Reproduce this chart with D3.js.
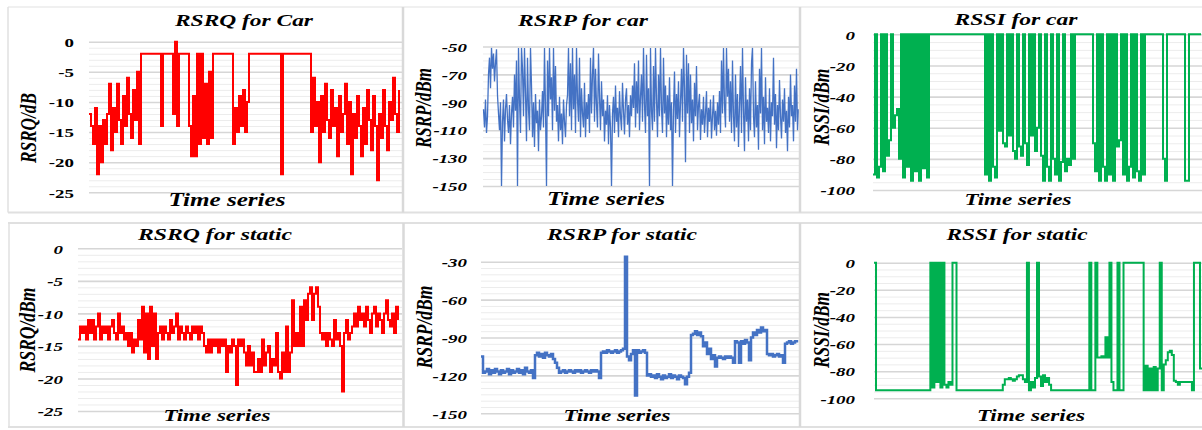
<!DOCTYPE html>
<html><head><meta charset="utf-8">
<script src="https://cdn.jsdelivr.net/npm/d3@7"></script>
<style>body{margin:0;background:#fff}svg{display:block}</style>
</head><body><svg id="c" width="1202" height="430"></svg>
<script>
// ---------------- DATA ----------------
const rsrqCar = [
 -12,-14,-17,-11,-22,-14,-20,-13,-17,-12,-7,-18,-11,-15,-7,-13,-17,-9,-14,-6,-12,-16,-8,-13,-5,-17,
 -2,-2,-2,-2,-2,-2,-2,-2,-2,-2,-14,-2,-2,-2,-2,-2,-12,0,-14,-2,-2,-2,-2,-2,
 -14,-19,-9,-19,-2,-17,-2,-16,-7,-17,-5,-16,
 -2,-2,-2,-2,-2,-2,-2,-2,-2,-2,
 -17,-11,-15,-9,-14,-8,-15,-10,
 -2,-2,-2,-2,-2,-2,-2,-2,-2,-2,-2,-2,-2,-2,-2,-2,-22,-2,-2,-2,-2,-2,-2,-2,-2,-2,-2,-2,-2,-2,-2,
 -15,-6,-14,-10,-20,-9,-15,-7,-13,-16,-8,-14,-11,-19,-9,-15,-12,-7,-17,-10,-22,-12,-16,-9,-14,
 -19,-11,-17,-8,-13,-18,-9,-14,-23,-12,-16,-8,-14,-18,-10,-13,-6,-12,-15,-8
];
const rsrpCar = [
 -95,-108,-88,-112,-100,-70,-58,-80,-51,-66,
 -55,-75,-62,-52,-85,-98,-110,-90,-150,-104,
 -88,-118,-95,-84,-102,-112,-92,-120,-98,-86,
 -108,-70,-96,-60,-150,-51,-88,-112,-51,-66,
 -100,-51,-84,-118,-58,-95,-110,-51,-78,-115,
 -90,-122,-84,-105,-96,-125,-88,-110,-100,-82,
 -108,-51,-95,-150,-60,-100,-51,-88,-72,-110,
 -51,-96,-64,-104,-92,-118,-86,-110,-98,-120,
 -88,-104,-115,-92,-85,-51,-100,-62,-110,-51,
 -95,-70,-112,-51,-88,-104,-58,-115,-80,-98,
 -108,-76,-115,-90,-102,-84,-112,-58,-98,-70,
 -51,-104,-66,-92,-108,-55,-86,-110,-75,-100,
 -88,-118,-96,-106,-85,-120,-92,-108,-150,-98,
 -86,-112,-78,-104,-94,-115,-82,-100,-110,-76,
 -96,-113,-88,-80,-106,-92,-115,-85,-100,-78,
 -94,-62,-108,-75,-98,-60,-110,-86,-70,-104,
 -51,-92,-112,-56,-100,-80,-150,-51,-96,-110,
 -64,-104,-51,-88,-115,-70,-100,-51,-94,-112,
 -58,-98,-78,-115,-85,-106,-72,-110,-90,-150,
 -96,-68,-112,-84,-102,-75,-115,-90,-66,-104,
 -51,-80,-133,-56,-98,-62,-112,-70,-105,-88,
 -118,-76,-100,-64,-110,-92,-84,-117,-95,-106,
 -86,-112,-98,-82,-115,-94,-104,-88,-116,-100,
 -85,-110,-96,-114,-90,-106,-82,-112,-60,-98,
 -51,-92,-108,-51,-86,-66,-104,-75,-112,-60,
 -100,-118,-70,-108,-84,-122,-92,-64,-112,-51,
 -96,-125,-72,-104,-88,-118,-80,-110,-62,-51,
 -100,-115,-75,-108,-92,-124,-66,-98,-51,-110,
 -86,-120,-72,-104,-94,-112,-80,-118,-90,-100,
 -58,-106,-84,-123,-92,-110,-74,-100,-116,-88,
 -104,-80,-112,-96,-125,-86,-108,-70,-100,-92,
 -118,-78,-104,-66,-110,-95
];
const rssiCar = [
 -90,0,-92,-85,0,-88,0,
 -78,-68,0,-60,-52,-48,-80,
 0,-92,0,-85,0,-94,0,-88,0,-94,0,-86,0,-92,0,
 0,0,0,0,0,0,0,0,0,0,0,0,0,0,0,0,0,0,0,0,0,0,0,0,0,0,0,
 -90,0,-94,0,-85,-92,0,
 -62,0,-70,-72,0,-65,0,-75,-80,0,-72,-78,0,-70,-84,0,-65,0,-75,-60,
 0,-78,-94,0,-85,-94,0,-80,-90,0,-94,-82,0,-88,-80,-84,0,-80,0,
 0,0,0,0,0,0,0,0,
 -70,-88,0,-94,0,-85,-94,0,-90,0,-94,0,-72,-68,0,-90,0,-94,-85,0,-92,0,-88,-94,0,-90,
 0,0,0,0,0,0,0,0,0,
 -80,-94,
 0,0,0,0,0,0,0,0,0,
 -94,-94,
 0,0,0,0,0,0,0
];
const rsrqStatic = [
 -14,-12,-13,-12,-14,-11,-13,-11,-14,-12,-10,-14,-12,-13,-12,-14,-12,-11,-13,-14,-10,-13,-12,-14,-13,
 -15,-13,-16,-14,-15,-11,-14,
 -9,-16,-10,-17,-9,-15,-10,-17,
 -13,-12,-14,-12,-13,-14,-11,-13,-12,-10,-14,-12,-13,-14,-12,-13,-14,-12,-13,-12,-14,
 -12,-13,-15,-16,-14,
 -16,-14,-15,-14,-16,-14,-15,-14,-19,-15,-16,-14,
 -15,-21,-14,-15,-14,-16,
 -18,-15,-18,-16,-19,
 -19,-17,-19,-14,-18,-16,-15,-19,-17,-18,-13,-19,-20,-16,-19,
 -12,-19,-16,-8,-15,-13,-15,
 -9,-15,-8,-11,
 -7,-6,-11,-7,-6,-9,
 -13,-14,-13,-15,-13,-14,-15,-11,-14,-13,-15,-22,-13,
 -11,-14,-13,-12,
 -10,-12,-9,-11,-10,-12,-9,-11,-13,-10,-9,-12,-10,-11,-13,-10,-8,-11,-12,-10,-13,-9,-11
];
const rsrpStatic = [
 -105,-118,
 -117,-115,-119,-116,-118,-115,-117,-119,-116,-118,-117,-115,-119,-116,-118,-117,-115,-118,-116,-119,-114,-117,-118,-116,-122,
 -104,-102,-105,-103,-106,-102,-104,-105,-103,-107,
 -110,-114,-118,
 -117,-116,-118,-117,-116,-117,-118,-116,-117,-116,-118,-117,-116,-117,-118,-116,-117,-116,-117,
 -122,-102,
 -101,-102,-100,-101,-102,-101,-100,-102,-101,-100,-99,
 -26,
 -105,-108,-103,-100,
 -136,
 -100,-102,-101,-100,-102,
 -120,
 -119,-121,-120,-122,-119,-121,-123,-120,-122,-121,-119,-122,-120,-121,-123,-120,-121,-122,-127,-121,
 -118,-88,
 -87,-85,-88,-86,-89,
 -97,-94,-103,-99,-107,-104,
 -113,
 -106,-105,-106,-107,-105,-106,-105,-106,-110,
 -93,
 -94,-110,-93,-95,-92,-94,
 -108,
 -90,-86,-88,-84,-86,-82,-85,-84,
 -103,-104,-103,-105,-104,-103,-105,-104,
 -110,
 -95,-94,-93,-95,-94,-93,-94
];
const rssiStatic = [
 0,
 -94,-94,-94,-94,-94,-94,-94,-94,-94,-94,-94,-94,-94,-94,-94,-94,-94,-94,-94,-94,-94,-94,-94,-94,-94,-94,-94,
 0,-92,0,-88,0,-92,0,-90,-92,
 -88,-90,
 0,0,-94,
 -94,-94,-94,-94,-94,-94,-94,-94,-94,-94,-94,-94,-94,-94,-94,-94,-94,-94,-94,-94,-94,-94,
 -90,-86,
 -86,-85,-86,-87,-86,-84,-83,-83,-86,-88,
 0,-94,
 -88,-92,-85,0,-84,-91,-83,-88,-85,-90,
 -94,
 -94,-94,-94,-94,-94,-94,-94,-94,-94,-94,-94,-94,-94,-94,-94,-94,-94,-94,
 0,-94,-94,0,-70,-70,
 -69,-70,-55,-70,
 0,-88,-94,-94,0,-94,-94,0,0,
 0,0,0,0,0,0,0,0,
 -94,
 -76,-94,-78,-94,-77,-94,-78,0,-94,-75,-72,-66,-65,-68,
 -87,-88,-90,-88,-88,-88,-88,-88,-88,
 -94,0,0,0,-78,-78
];

const ticksRsrq = [0,-5,-10,-15,-20,-25];
const ticksRsrpCar = [-50,-70,-90,-110,-130,-150];
const ticksRssi = [0,-20,-40,-60,-80,-100];
const ticksRsrpStatic = [-30,-60,-90,-120,-150];

const titleTexts = ["RSRQ for Car","RSRP for car","RSSI for car","RSRQ for static","RSRP for static","RSSI for static"];
const yTitleTexts = ["RSRQ/dB","RSRP/dBm","RSSI/dBm","RSRQ/dBm","RSRP/dBm","RSSI/dBm"];
const xTitleText = "Time series";

// ---------------- LAYOUT ----------------
const FONT = "'Liberation Serif','Times New Roman',serif";
const STRETCH = 1.4;
const svg = d3.select("#c");

const frameColor = "#d9d9d9";
function hline(y, x0, x1, w, c){ svg.append("line").attr("x1",x0).attr("x2",x1).attr("y1",y).attr("y2",y).attr("stroke",c).attr("stroke-width",w); }
function vline(x, y0, y1, w, c){ svg.append("line").attr("x1",x).attr("x2",x).attr("y1",y0).attr("y2",y1).attr("stroke",c).attr("stroke-width",w); }

const panels = [
 {data:rsrqCar, ticks:ticksRsrq, dom:[-25,0], minor:1, color:"#ff0000", lw:2, curve:d3.curveStepAfter,
  x0:89, x1:399, yb:192.3, yt:41.7, gx0:89, gx1:402, tickX:74, tickItalic:false, tickFS:13.5,
  tX:244, tY:26, tW:138, tFS:16.5, sX:227, sY:205.5, sW:117, sFS:18, lX:28, lY:128, lW:70},
 {data:rsrpCar, ticks:ticksRsrpCar, dom:[-150,-50], minor:5, color:"#4472c4", lw:1.3, curve:d3.curveLinear,
  x0:483.5, x1:798.5, yb:186, yt:46.5, gx0:483, gx1:800, tickX:467, tickItalic:true, tickFS:13.5,
  tX:583, tY:26, tW:130, tFS:16.5, sX:606, sY:205, sW:118, sFS:18, lX:423, lY:108, lW:80},
 {data:rssiCar, ticks:ticksRssi, dom:[-100,0], minor:5, color:"#00b050", lw:2, curve:d3.curveStepAfter,
  x0:873, x1:1201, yb:190, yt:34.3, gx0:873, gx1:1202, tickX:855, tickItalic:true, tickFS:13.5,
  tX:1016, tY:25, tW:123, tFS:16.5, sX:1018, sY:204.5, sW:107, sFS:17, lX:821, lY:107, lW:77},
 {data:rsrqStatic, ticks:ticksRsrq, dom:[-25,0], minor:1, color:"#ff0000", lw:2, curve:d3.curveStepAfter,
  x0:78, x1:398, yb:411, yt:248.3, gx0:78, gx1:402, tickX:63, tickItalic:true, tickFS:13.5,
  tX:215, tY:240, tW:154, tFS:16.5, sX:217, sY:421, sW:107, sFS:17, lX:27, lY:330, lW:85},
 {data:rsrpStatic, ticks:ticksRsrpStatic, dom:[-150,-30], minor:5, color:"#4472c4", lw:2.5, curve:d3.curveStepAfter,
  x0:481, x1:797, yb:413.3, yt:261.7, gx0:481, gx1:800, tickX:467, tickItalic:true, tickFS:13.5,
  tX:622, tY:240, tW:150, tFS:16.5, sX:617, sY:421, sW:107, sFS:17, lX:424, lY:327, lW:83},
 {data:rssiStatic, ticks:ticksRssi, dom:[-100,0], minor:5, color:"#00b050", lw:2, curve:d3.curveStepAfter,
  x0:874, x1:1202, yb:398.3, yt:262.7, gx0:874, gx1:1202, tickX:855, tickItalic:true, tickFS:13.5,
  tX:1017, tY:240, tW:141, tFS:16.5, sX:1031, sY:421, sW:108, sFS:17, lX:821, lY:330, lW:76}
];

panels.forEach((p, k) => {
  const g = svg.append("g");
  const y = d3.scaleLinear().domain(p.dom).range([p.yb, p.yt]);
  const x = d3.scaleLinear().domain([0, p.data.length - 1]).range([p.x0, p.x1]);

  const minorVals = d3.range(p.dom[0], p.dom[1] + 0.001, p.minor).filter(v => !p.ticks.includes(v));
  g.append("g").attr("transform", `translate(${p.gx0},0)`)
    .call(d3.axisLeft(y).tickValues(minorVals).tickSize(-(p.gx1 - p.gx0)).tickFormat(""))
    .call(a => { a.select(".domain").remove(); a.selectAll("line").attr("stroke", "#ececec").attr("stroke-width", 1); });
  g.append("g").attr("transform", `translate(${p.gx0},0)`)
    .call(d3.axisLeft(y).tickValues(p.ticks).tickSize(-(p.gx1 - p.gx0)).tickFormat(""))
    .call(a => { a.select(".domain").remove(); a.selectAll("line").attr("stroke", "#d6d6d6").attr("stroke-width", 1.6); });

  g.append("g").attr("transform", `translate(${p.tickX},0)`)
    .call(d3.axisLeft(y).tickValues(p.ticks).tickSize(0).tickPadding(0).tickFormat(d => d === 0 ? "0" : "-" + Math.abs(d)))
    .call(a => {
      a.select(".domain").remove();
      a.selectAll("text")
        .attr("font-family", FONT).attr("font-weight", "bold")
        .attr("font-style", p.tickItalic ? "italic" : "normal")
        .attr("font-size", p.tickFS).attr("fill", "#000")
        .attr("text-anchor", "end").attr("x", 0).attr("dy", "0.35em")
        .attr("transform", `scale(${STRETCH},1)`);
    });

  const clipId = "clip" + k;
  svg.append("clipPath").attr("id", clipId).append("rect")
    .attr("x", p.gx0 - 2).attr("y", 0).attr("width", p.gx1 - p.gx0 + 2).attr("height", 430);
  g.append("path").datum(p.data)
    .attr("clip-path", `url(#${clipId})`)
    .attr("fill", "none").attr("stroke", p.color).attr("stroke-width", p.lw)
    .attr("stroke-linejoin", "miter").attr("stroke-miterlimit", 2)
    .attr("d", d3.line().curve(p.curve).x((d, i) => x(i)).y(d => y(d)));

  g.append("text").text(titleTexts[k])
    .attr("x", p.tX - p.tW / 2).attr("y", p.tY)
    .attr("textLength", p.tW).attr("lengthAdjust", "spacingAndGlyphs")
    .attr("font-family", FONT).attr("font-weight", "bold").attr("font-style", "italic")
    .attr("font-size", p.tFS).attr("fill", "#000");
  g.append("text").text(xTitleText)
    .attr("x", p.sX - p.sW / 2).attr("y", p.sY)
    .attr("textLength", p.sW).attr("lengthAdjust", "spacingAndGlyphs")
    .attr("font-family", FONT).attr("font-weight", "bold").attr("font-style", "italic")
    .attr("font-size", p.sFS).attr("fill", "#000");
  g.append("g").attr("transform", `translate(${p.lX},${p.lY}) rotate(-90) scale(1,${STRETCH})`)
    .append("text").text(yTitleTexts[k])
    .attr("x", -p.lW / 2).attr("y", 0).attr("dy", "0.35em")
    .attr("textLength", p.lW).attr("lengthAdjust", "spacingAndGlyphs")
    .attr("font-family", FONT).attr("font-weight", "bold").attr("font-style", "italic")
    .attr("font-size", 17).attr("fill", "#000");
});

hline(7, 8, 1202, 1.2, "#e2e2e2");
hline(212.5, 8, 1202, 2, "#e0e0e0");
hline(223, 8, 1202, 2, "#e0e0e0");
hline(427, 8, 1202, 2, "#e0e0e0");
vline(8, 7, 212.5, 1.5, "#e0e0e0");
vline(9, 223, 427, 1.5, "#e0e0e0");
vline(403, 7, 212.5, 2.5, frameColor);
vline(800, 7, 212.5, 2.5, frameColor);
vline(403.5, 223, 427, 2.5, frameColor);
vline(800, 223, 427, 2.5, frameColor);
</script></body></html>
